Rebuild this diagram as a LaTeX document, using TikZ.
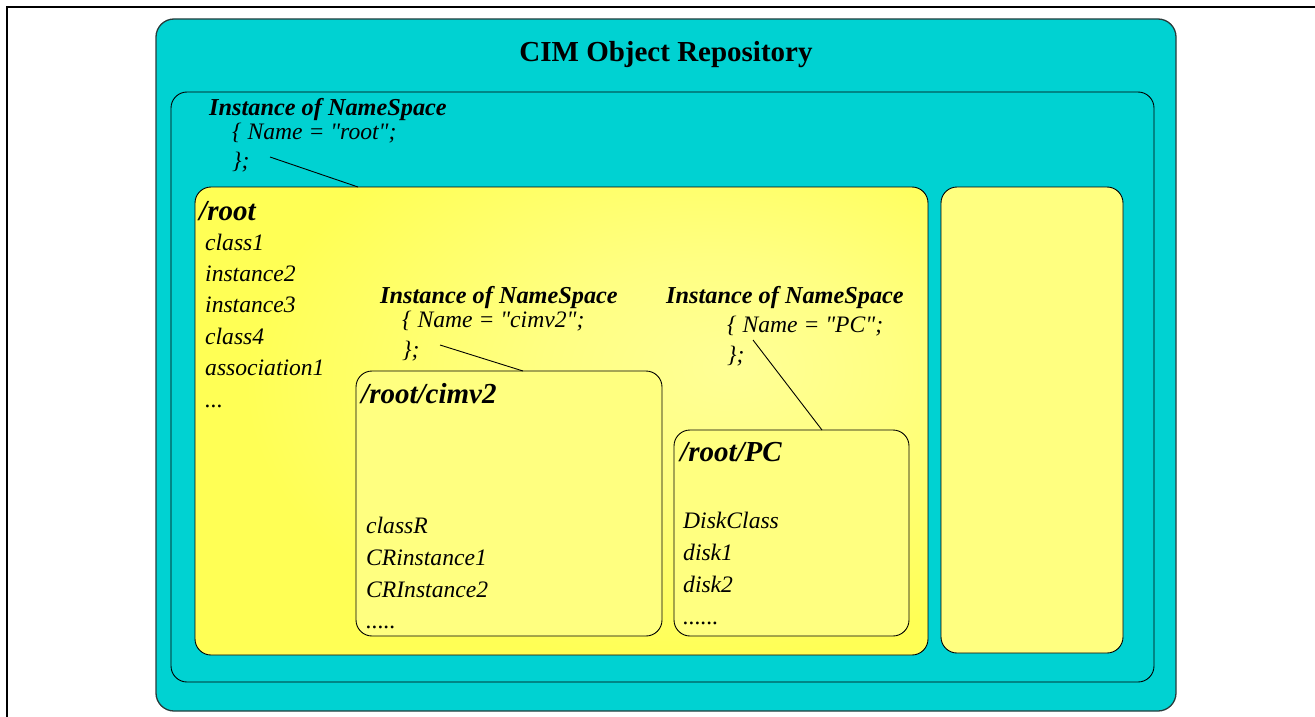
\documentclass[tikz,border=0pt]{standalone}
\usepackage{fontspec}
\setmainfont{Liberation Serif}[Ligatures=TeXOff]
\usetikzlibrary{calc}
\definecolor{cimcyan}{RGB}{0,210,210}
\definecolor{rootyel}{RGB}{255,255,85}
\definecolor{rootlight}{RGB}{255,255,150}
\definecolor{paleyel}{RGB}{255,255,128}
\definecolor{edgegray}{RGB}{40,60,60}
\pgfdeclareradialshading{rootglow}{\pgfpoint{12bp}{6bp}}{%
  color(0bp)=(rootlight); color(12bp)=(rootlight!70!rootyel); color(30bp)=(rootyel); color(100bp)=(rootyel)}
\tikzset{
  box/.style={rectangle, rounded corners=16pt, inner sep=0pt, outer sep=0pt, anchor=north west, line width=0.9pt},
  itemtxt/.style={anchor=base west, inner sep=0pt, font=\fontsize{23.6}{27}\selectfont\itshape},
  nstxt/.style={anchor=base west, inner sep=0pt, font=\fontsize{24.3}{27}\selectfont\bfseries\itshape},
  headtxt/.style={anchor=base west, inner sep=0pt, font=\fontsize{29}{32}\selectfont\bfseries\itshape},
  titletxt/.style={anchor=base, inner sep=0pt, font=\fontsize{29}{33}\selectfont\bfseries},
  link/.style={draw, line width=0.9pt}
}
\begin{document}
\begin{tikzpicture}[x=1pt,y=-1pt]
\useasboundingbox (0,0) rectangle (1315,717);
% page frame
\draw[line width=2.5pt] (7,760) -- (7,7) -- (1360,7);
% outer repository box
\node[box, draw=edgegray, fill=cimcyan, line width=1.3pt, minimum width=1020pt, minimum height=692pt, rounded corners=18pt] (repo) at (156,19) {};
\node[titletxt] (title) at (666,62) {CIM Object Repository};
\node[box, draw=black, fill=cimcyan, minimum width=983pt, minimum height=590pt] (ns) at (171,92) {};
% root namespace box
\node[box, draw=black, shading=rootglow, minimum width=733pt, minimum height=468pt] (root) at (195,187) {};
\node[box, draw=black, fill=paleyel, minimum width=182pt, minimum height=466pt] (spare) at (941,187) {};
% root namespace instance text
\node[nstxt] (ns1a) at (209,115) {Instance of NameSpace};
\node[itemtxt] (ns1b) at (232,139) {\{ Name = "root";};
\node[itemtxt] (ns1c) at (232,168) {\};};
\coordinate (ns1end) at (270,157);
\draw[link] (ns1end) -- ($(root.north west)+(163,0)$);
% root contents
\node[headtxt] (roothead) at (199,220) {/root};
\node[itemtxt] (ri1) at (205,250) {class1};
\node[itemtxt] (ri2) at (205,281.4) {instance2};
\node[itemtxt] (ri3) at (205,312.8) {instance3};
\node[itemtxt] (ri4) at (205,344.2) {class4};
\node[itemtxt] (ri5) at (205,375.6) {association1};
\node[itemtxt] (ri6) at (205,407) {...};
% cimv2
\node[nstxt] (ns2a) at (380,303) {Instance of NameSpace};
\node[itemtxt] (ns2b) at (402,327) {\{ Name = "cimv2";};
\node[itemtxt] (ns2c) at (402,357) {\};};
\node[box, draw=black, fill=paleyel, minimum width=306pt, minimum height=265pt] (cimv2) at (356,371) {};
\coordinate (ns2end) at (440,345);
\draw[link] (ns2end) -- ($(cimv2.north west)+(167,0)$);
\node[headtxt] (cimhead) at (361,403) {/root/cimv2};
\node[itemtxt] (ci1) at (366,533) {classR};
\node[itemtxt] (ci2) at (366,565) {CRinstance1};
\node[itemtxt] (ci3) at (366,597) {CRInstance2};
\node[itemtxt] (ci4) at (366,628) {.....};
% PC
\node[nstxt] (ns3a) at (666,303) {Instance of NameSpace};
\node[itemtxt] (ns3b) at (727,332) {\{ Name = "PC";};
\node[itemtxt] (ns3c) at (727,362) {\};};
\node[box, draw=black, fill=paleyel, minimum width=235pt, minimum height=206pt] (pc) at (674,430) {};
\coordinate (ns3end) at (753,340);
\draw[link] (ns3end) -- ($(pc.north west)+(148,0)$);
\node[headtxt] (pchead) at (680,461) {/root/PC};
\node[itemtxt] (pi1) at (683,528) {DiskClass};
\node[itemtxt] (pi2) at (683,560) {disk1};
\node[itemtxt] (pi3) at (683,592) {disk2};
\node[itemtxt] (pi4) at (683,624) {......};
\end{tikzpicture}
\end{document}
